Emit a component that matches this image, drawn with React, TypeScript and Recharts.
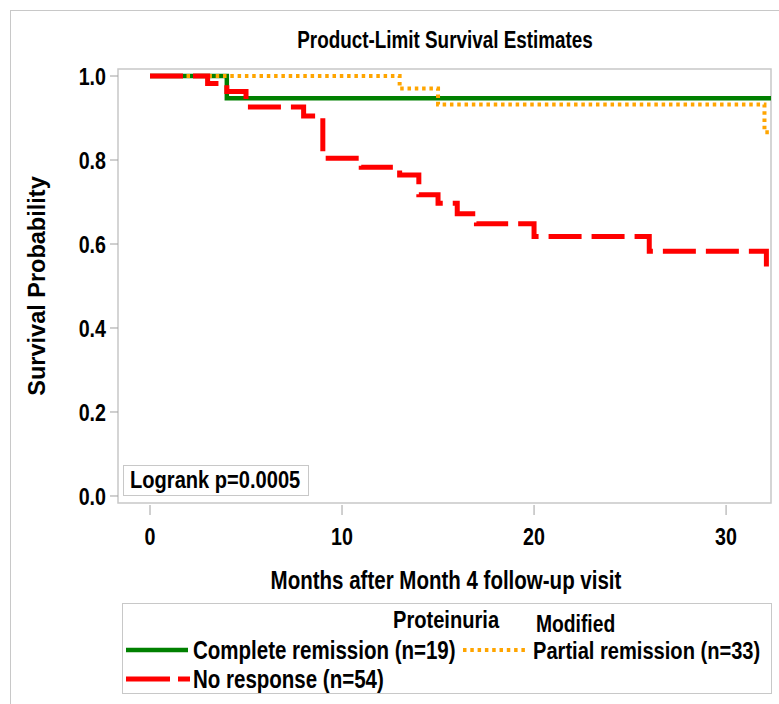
import React from "react";
import { Line, LineChart, ReferenceArea, XAxis, YAxis } from "recharts";

// Kaplan-Meier step estimates per stratum (months, survival)
const completeMonths = [0, 4, 32.34];
const completeSurv = [1, 0.947, 0.947];

const partialMonths = [0, 13, 15, 32, 32.3];
const partialSurv = [1, 0.97, 0.932, 0.866, 0.866];

const noRespMonths = [0, 3, 4, 5, 8, 9, 11, 13, 14, 15, 16, 17, 20, 26, 32.1, 32.3];
const noRespSurv = [1, 0.982, 0.963, 0.926, 0.905, 0.804, 0.783, 0.764, 0.717, 0.697, 0.672, 0.648, 0.618, 0.583, 0.546, 0.546];

const xTicks = [0, 10, 20, 30];
const yTicks = [0, 0.2, 0.4, 0.6, 0.8, 1.0];

const legendLabels = {
  complete: "Complete remission (n=19)",
  partial: "Partial remission (n=33)",
  noResp: "No response (n=54)",
};

const toRows = (t: number[], s: number[]) => t.map((m, i) => ({ t: m, s: s[i] }));

const FONT = "'Liberation Sans', Arial, sans-serif";
const NARROW = 0.82; // horizontal squeeze to get an Arial Narrow look
const X_DOMAIN: [number, number] = [-1.667, 32.34];
const Y_DOMAIN: [number, number] = [-0.01667, 1.01667];

const GREEN = "#008000";
const ORANGE = "#ffa500";
const RED = "#ff0000";
const FRAME = "#c8c8c8";
const TICK = "#a0a0a0";

const TICK_FS = 24;

function XTick({ x, y, payload }: any) {
  return (
    <text transform={`translate(${x},${y + 31.5}) scale(${NARROW},1)`} textAnchor="middle" fontFamily={FONT} fontWeight={700} fontSize={TICK_FS} fill="#000">
      {payload.value}
    </text>
  );
}

function YTick({ x, y, payload }: any) {
  return (
    <text transform={`translate(${x - 4},${y + 8.6}) scale(${NARROW},1)`} textAnchor="end" fontFamily={FONT} fontWeight={700} fontSize={TICK_FS} fill="#000">
      {Number(payload.value).toFixed(1)}
    </text>
  );
}

// HTML text placed by the vertical centre of its capitals (line-height 0.8)
function Narrow({ left, cy, fs, children }: { left: number; cy: number; fs: number; children: React.ReactNode }) {
  return (
    <div
      style={{
        position: "absolute",
        left,
        top: cy - 0.389 * fs,
        fontFamily: FONT,
        fontWeight: 700,
        fontSize: fs,
        lineHeight: 0.8,
        whiteSpace: "nowrap",
        color: "#000",
        transform: `scaleX(${NARROW})`,
        transformOrigin: "left center",
      }}
    >
      {children}
    </div>
  );
}

function Swatch({ color, width, dash, w = 62 }: { color: string; width: number; dash?: string; w?: number }) {
  return (
    <svg width={w} height={10} style={{ display: "block" }}>
      <line x1={0} y1={5} x2={w} y2={5} stroke={color} strokeWidth={width} strokeDasharray={dash} />
    </svg>
  );
}

export default function App() {
  return (
    <div style={{ position: "absolute", left: 0, top: 0, width: 779, height: 704, background: "#fff", overflow: "hidden" }}>
      <div style={{ position: "absolute", left: 10, top: 10, width: 800, height: 800, border: `1px solid ${FRAME}` }} />
      <div style={{ position: "absolute", left: 445, top: 0 }}>
        <div style={{ position: "absolute", left: 0, top: 40 - 0.49 * 23, fontFamily: FONT, fontWeight: 700, fontSize: 23, lineHeight: 1, whiteSpace: "nowrap", transform: `translateX(-50%) scaleX(${NARROW})` }}>
          Product-Limit Survival Estimates
        </div>
      </div>
      <div style={{ position: "absolute", left: 0, top: 0 }}>
        <LineChart width={779} height={704} margin={{ top: 69, right: 8, left: 58, bottom: 161 }}>
          <XAxis
            dataKey="t"
            type="number"
            domain={X_DOMAIN}
            allowDataOverflow
            ticks={xTicks}
            axisLine={false}
            tickSize={10}
            tickMargin={0}
            height={40}
            tickLine={{ stroke: TICK, transform: "translate(0,2)" }}
            tick={<XTick />}
          />
          <YAxis
            type="number"
            domain={Y_DOMAIN}
            allowDataOverflow
            ticks={yTicks}
            axisLine={false}
            width={60}
            tickSize={8}
            tickMargin={0}
            tickLine={{ stroke: TICK }}
            tick={<YTick />}
          />
          <ReferenceArea x1={X_DOMAIN[0]} x2={X_DOMAIN[1]} y1={Y_DOMAIN[0]} y2={Y_DOMAIN[1]} fill="none" stroke={FRAME} strokeWidth={1.5} ifOverflow="visible" />
          <Line data={toRows(completeMonths, completeSurv)} dataKey="s" type="stepAfter" stroke={GREEN} strokeWidth={4.5} dot={false} isAnimationActive={false} />
          <Line data={toRows(partialMonths, partialSurv)} dataKey="s" type="stepAfter" stroke={ORANGE} strokeWidth={4} strokeDasharray="3.5 3.8" dot={false} isAnimationActive={false} />
          <Line data={toRows(noRespMonths, noRespSurv)} dataKey="s" type="stepAfter" stroke={RED} strokeWidth={5} strokeDasharray="33 10" dot={false} isAnimationActive={false} />
        </LineChart>
      </div>

      {/* axis titles */}
      <div style={{ position: "absolute", left: 38, top: 286 }}>
        <div style={{ position: "absolute", left: 0, top: 0, fontFamily: FONT, fontWeight: 700, fontSize: 23.5, lineHeight: 1, whiteSpace: "nowrap", transform: "rotate(-90deg) translate(-50%, -50%)", transformOrigin: "0 0" }}>
          Survival Probability
        </div>
      </div>
      <div style={{ position: "absolute", left: 446, top: 0 }}>
        <div style={{ position: "absolute", left: 0, top: 580 - 0.49 * 25, fontFamily: FONT, fontWeight: 700, fontSize: 25, lineHeight: 1, whiteSpace: "nowrap", transform: `translateX(-50%) scaleX(${NARROW})` }}>
          Months after Month 4 follow-up visit
        </div>
      </div>

      {/* logrank inset */}
      <div style={{ position: "absolute", left: 123, top: 465, width: 184, height: 29, border: `1px solid ${FRAME}`, background: "#fff" }} />
      <Narrow left={130} cy={480} fs={24.5}>Logrank p=0.0005</Narrow>

      {/* legend */}
      <div style={{ position: "absolute", left: 122, top: 603, width: 648, height: 89, border: `1px solid ${FRAME}` }} />
      <Narrow left={393} cy={620} fs={24.5}>Proteinuria</Narrow>
      <Narrow left={536} cy={624} fs={23.5}>Modified</Narrow>
      <div style={{ position: "absolute", left: 126, top: 645 }}><Swatch color={GREEN} width={4.5} /></div>
      <Narrow left={193} cy={650} fs={25}>{legendLabels.complete}</Narrow>
      <div style={{ position: "absolute", left: 463, top: 645 }}><Swatch color={ORANGE} width={4} dash="3.5 3.8" /></div>
      <Narrow left={533} cy={651} fs={24.5}>{legendLabels.partial}</Narrow>
      <div style={{ position: "absolute", left: 126, top: 674 }}><Swatch color={RED} width={5} dash="44 8" w={64} /></div>
      <Narrow left={193} cy={679} fs={25}>{legendLabels.noResp}</Narrow>
    </div>
  );
}
